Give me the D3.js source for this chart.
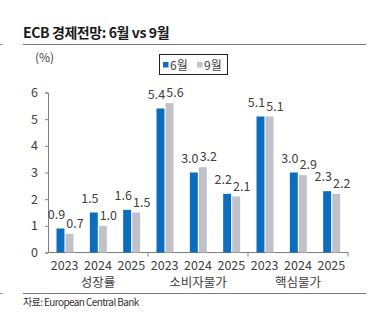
<!DOCTYPE html>
<html>
<head>
<meta charset="utf-8">
<script src="https://cdn.jsdelivr.net/npm/d3@7"></script>
<style>
  body { margin: 0; background: #fff; }
  text { font-family: "Noto Sans CJK KR", "Noto Sans", sans-serif; }
</style>
</head>
<body>
<script>
// data
var years = ["2023", "2024", "2025"];
var groups = ["성장률", "소비자물가", "핵심물가"];
var june = [0.9, 1.5, 1.6, 5.4, 3.0, 2.2, 5.1, 3.0, 2.3];
var sept = [0.7, 1.0, 1.5, 5.6, 3.2, 2.1, 5.1, 2.9, 2.2];
var seriesNames = ["6월", "9월"];
var yTicks = [0, 1, 2, 3, 4, 5, 6];

var blue = "#0b6dbd", grey = "#c0c1c9", txt = "#404040";

var svg = d3.select("body").append("svg")
    .attr("width", 378).attr("height", 331);

// category keys, one per bar pair
var cats = [];
groups.forEach(function (g) {
    years.forEach(function (y) { cats.push(g + "-" + y); });
});
var rows = cats.map(function (c, i) { return { key: c, year: c.split("-")[1], v: [june[i], sept[i]] }; });

var x0 = d3.scaleBand().domain(cats).range([48, 348]);
var x1 = d3.scaleBand().domain(seriesNames).range([8.5, 25.5]).paddingInner(0.12);
var y = d3.scaleLinear().domain([0, 6]).range([252.5, 92.5]);

// title + rules
svg.append("text").attr("x", 23).attr("y", 38)
    .attr("font-size", "14px").attr("font-weight", "bold")
    .attr("letter-spacing", "-0.4px").attr("fill", "#1a1a1a")
    .text("ECB 경제전망: 6월 vs 9월");
[44.5, 293.5].forEach(function (ry) {
    svg.append("line").attr("x1", 23).attr("x2", 366).attr("y1", ry).attr("y2", ry)
        .attr("stroke", "#7a7a7a").attr("stroke-width", 1);
    svg.append("line").attr("x1", 0).attr("x2", 3).attr("y1", ry).attr("y2", ry)
        .attr("stroke", "#9a9a9a").attr("stroke-width", 1);
});
svg.append("text").attr("x", 23).attr("y", 306)
    .attr("font-size", "10px").attr("letter-spacing", "-0.6px").attr("fill", "#333")
    .text("자료: European Central Bank");

svg.append("text").attr("x", 35).attr("y", 62)
    .attr("font-size", "12px").attr("fill", txt).text("(%)");

// y axis
var yAxis = svg.append("g").attr("transform", "translate(48,0)")
    .call(d3.axisLeft(y).tickValues(yTicks).tickSize(3).tickPadding(7).tickFormat(d3.format("d")));
yAxis.select(".domain").attr("stroke", "#808080");
yAxis.selectAll(".tick line").attr("stroke", "#808080");
yAxis.selectAll("text").attr("font-size", "12.5px").attr("fill", txt)
    .style("font-family", "'Noto Sans CJK KR', sans-serif");

// x axis: line with ticks at group boundaries
var xs = d3.scaleLinear().domain([0, 3]).range([48, 348]);
svg.append("line").attr("x1", 48).attr("x2", 348).attr("y1", 252.5).attr("y2", 252.5)
    .attr("stroke", "#808080");
svg.selectAll(".gtick").data([1, 2, 3]).enter().append("line")
    .attr("x1", function (d) { return xs(d); }).attr("x2", function (d) { return xs(d); })
    .attr("y1", 252.5).attr("y2", 256.5).attr("stroke", "#808080");

// bars
var cat = svg.selectAll(".cat").data(rows).enter().append("g")
    .attr("transform", function (d) { return "translate(" + x0(d.key) + ",0)"; });

function pairs(d) { return d.v.map(function (v, i) { return { s: seriesNames[i], v: v, i: i }; }); }

cat.selectAll("rect").data(pairs)
    .enter().append("rect")
    .attr("x", function (d) { return x1(d.s); })
    .attr("width", x1.bandwidth())
    .attr("y", function (d) { return y(d.v); })
    .attr("height", function (d) { return y(0) - y(d.v); })
    .attr("fill", function (d) { return d.i === 0 ? blue : grey; });

// labels pushed apart a bit, like the original
cat.selectAll(".lab").data(pairs)
    .enter().append("text")
    .attr("x", function (d) { return x1(d.s) + x1.bandwidth() / 2 + (d.i === 0 ? -4 : 5.5); })
    .attr("y", function (d) { return y(d.v) - (d.i === 0 ? 10 : 6); })
    .attr("text-anchor", "middle").attr("font-size", "12.5px").attr("fill", txt)
    .text(function (d) { return d3.format(".1f")(d.v); });

// category labels
svg.selectAll(".yr").data(rows).enter().append("text")
    .attr("x", function (d) { return x0(d.key) + x0.bandwidth() / 2; })
    .attr("y", 269.5).attr("text-anchor", "middle")
    .attr("font-size", "12.5px").attr("fill", txt)
    .text(function (d) { return d.year; });
svg.selectAll(".grp").data(groups).enter().append("text")
    .attr("x", function (d, i) { return xs(i + 0.5); })
    .attr("y", 287).attr("text-anchor", "middle")
    .attr("font-size", "12.5px").attr("fill", txt)
    .text(function (d) { return d; });

// legend
var leg = svg.append("g");
leg.append("rect").attr("x", 159.5).attr("y", 54.5).attr("width", 68).attr("height", 20)
    .attr("fill", "#fff").attr("stroke", "#222");
var li = leg.selectAll(".li").data(seriesNames).enter().append("g")
    .attr("transform", function (d, i) { return "translate(" + (163 + i * 34) + ",0)"; });
li.append("rect").attr("x", 0).attr("y", 62).attr("width", 5.5).attr("height", 5.5)
    .attr("fill", function (d, i) { return i === 0 ? blue : grey; });
li.append("text").attr("x", 7).attr("y", 69.5).attr("font-size", "12px").attr("fill", txt)
    .text(function (d) { return d; });
</script>
</body>
</html>
